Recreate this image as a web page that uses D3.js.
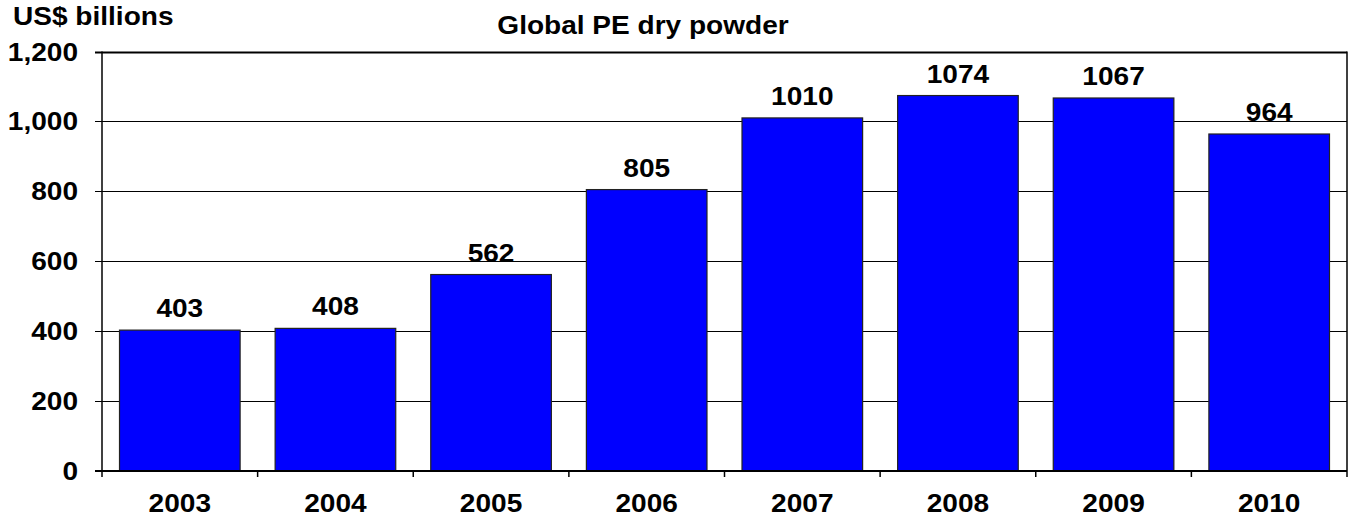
<!DOCTYPE html>
<html><head><meta charset="utf-8">
<script src="https://cdn.jsdelivr.net/npm/d3@7"></script>
<style>
html,body{margin:0;padding:0;background:#fff;}
text{font-family:"Liberation Sans",Arial,sans-serif;font-weight:bold;fill:#000;}
</style></head>
<body>
<svg id="chart" width="1350" height="516"></svg>
<script>
const years = ["2003","2004","2005","2006","2007","2008","2009","2010"];
const values = [403, 408, 562, 805, 1010, 1074, 1067, 964];
const yTicks = [0, 200, 400, 600, 800, 1000, 1200];
const titleText = "Global PE dry powder";
const unitText = "US$ billions";

(function () {
const svg = d3.select("#chart");
const pL = 102, pR = 1347, pT = 51.5, pB = 471;
const SX = 1.1, FS = 25.5;

const x = d3.scaleBand().domain(years).range([pL, pR]).paddingInner(0.225).paddingOuter(0.1125);
const y = d3.scaleLinear().domain([0, 1200]).range([pB, pT]);

function label(g, tx, ty, txt, anchor) {
  g.append("text")
    .attr("transform", `translate(${tx},${ty}) scale(${SX},1)`)
    .attr("text-anchor", anchor)
    .style("font-size", FS + "px")
    .text(txt);
}

// gridlines
svg.append("g").selectAll("line").data(yTicks.filter(d => d > 0)).join("line")
  .attr("x1", pL - 7).attr("x2", pR)
  .attr("y1", d => Math.round(y(d)) + 0.5).attr("y2", d => Math.round(y(d)) + 0.5)
  .attr("stroke", "#000").attr("stroke-width", d => d === 1200 ? 2 : 1);

// bars
svg.append("g").selectAll("rect").data(values).join("rect")
  .attr("x", (d, i) => x(years[i]))
  .attr("y", d => y(d))
  .attr("width", x.bandwidth())
  .attr("height", d => y(0) - y(d))
  .attr("fill", "#0000ff")
  .attr("stroke", "#222")
  .attr("stroke-width", 1.2);

// axes lines
svg.append("line").attr("x1", pL).attr("x2", pL).attr("y1", pT).attr("y2", pB + 6)
  .attr("stroke", "#000").attr("stroke-width", 1.5);
svg.append("line").attr("x1", pR).attr("x2", pR).attr("y1", pT).attr("y2", pB + 6)
  .attr("stroke", "#000").attr("stroke-width", 1.5);
svg.append("line").attr("x1", pL - 7).attr("x2", pR).attr("y1", pB).attr("y2", pB)
  .attr("stroke", "#000").attr("stroke-width", 2);

// x ticks at band boundaries
const bounds = years.map(d => x(d) - x.step() * x.paddingInner() / 2);
svg.append("g").selectAll("line").data(bounds.slice(1)).join("line")
  .attr("x1", d => d).attr("x2", d => d).attr("y1", pB).attr("y2", pB + 6)
  .attr("stroke", "#000").attr("stroke-width", 1.5);

// y tick labels
const gy = svg.append("g");
yTicks.forEach(t => label(gy, 78, y(t) + 9, d3.format(",")(t), "end"));

// x labels
const gx = svg.append("g");
years.forEach(yr => label(gx, x(yr) + x.bandwidth() / 2, 511.5, yr, "middle"));

// value labels
const gv = svg.append("g");
values.forEach((v, i) => label(gv, x(years[i]) + x.bandwidth() / 2, y(v) - 13, String(v), "middle"));

// title and unit
label(svg, 643, 33.5, titleText, "middle");
label(svg, 13, 25, unitText, "start");
})();
</script>
</body></html>
